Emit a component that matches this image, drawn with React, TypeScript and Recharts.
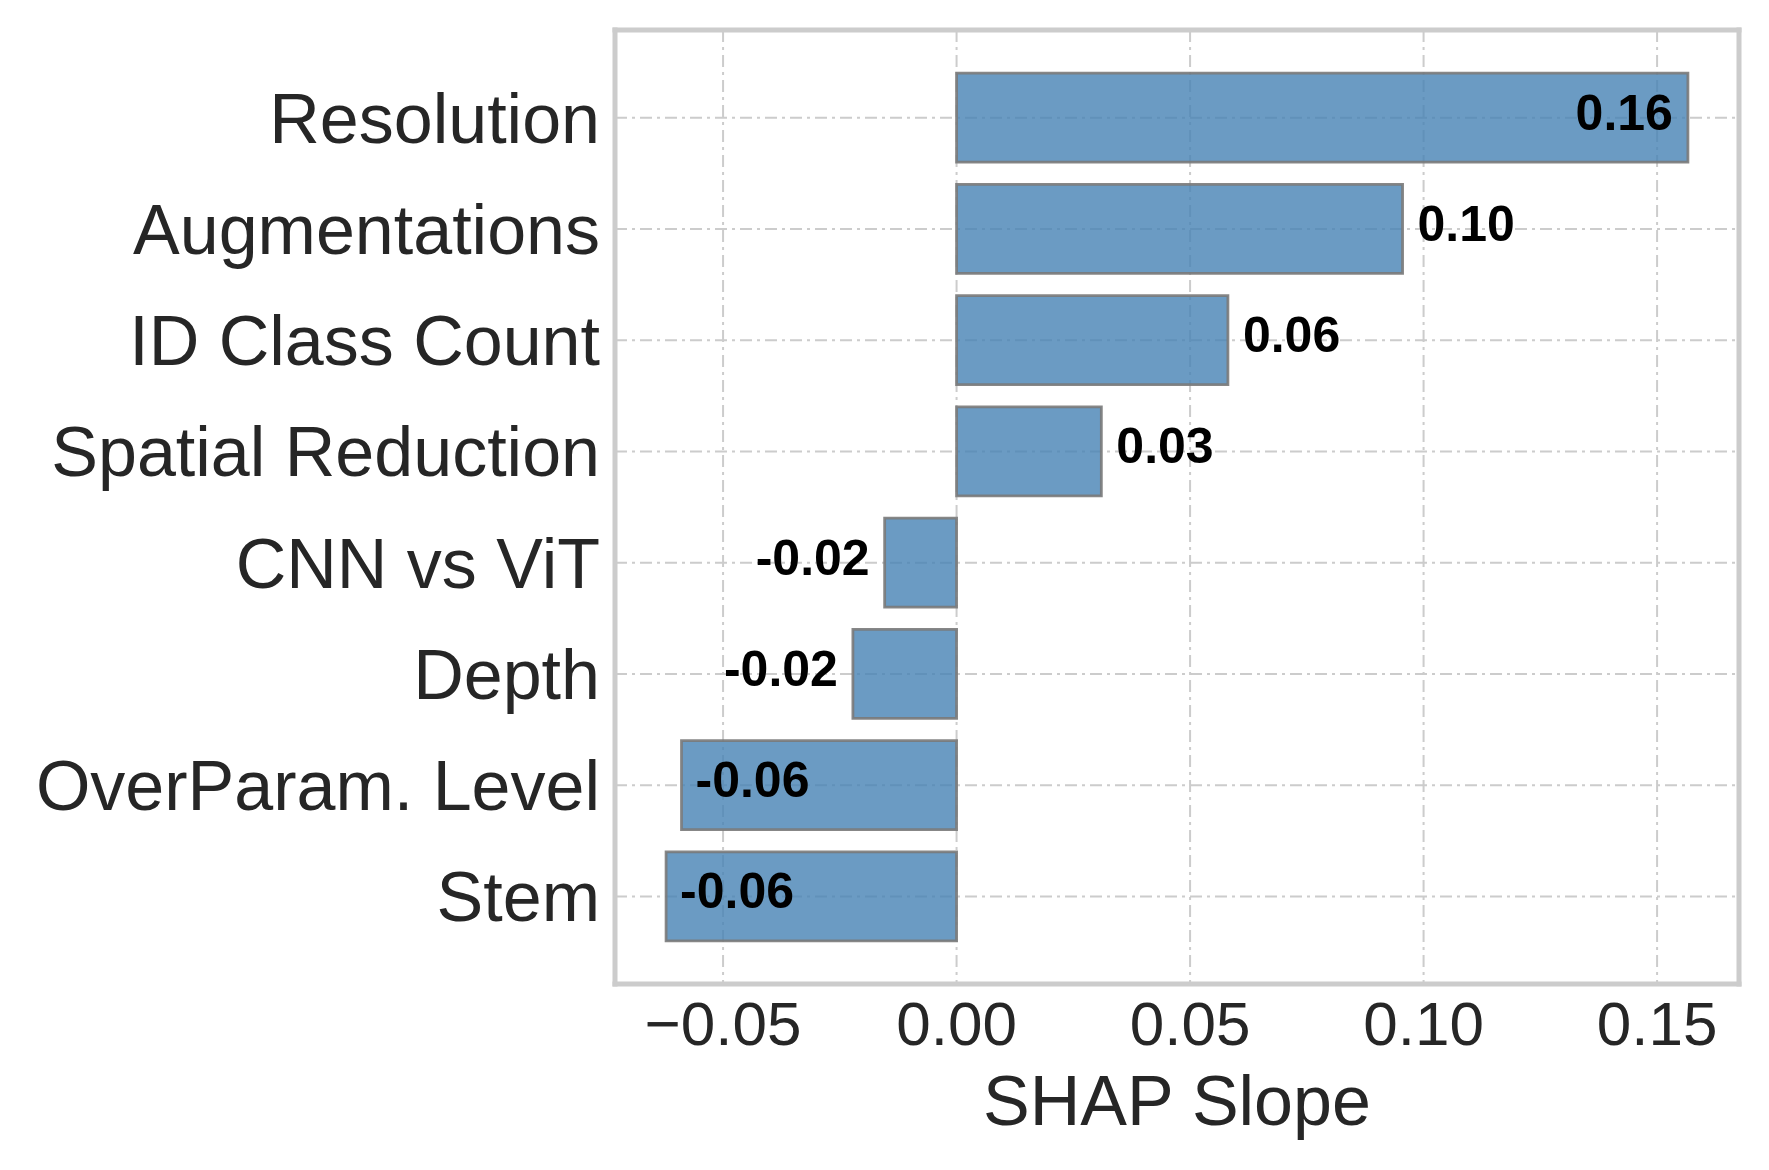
import React from "react";
import { BarChart, Bar, XAxis, YAxis, CartesianGrid, LabelList, Label } from "recharts";

const categories = [
  "Resolution",
  "Augmentations",
  "ID Class Count",
  "Spatial Reduction",
  "CNN vs ViT",
  "Depth",
  "OverParam. Level",
  "Stem",
];
const values = [0.1566, 0.0955, 0.0581, 0.031, -0.0154, -0.0222, -0.0589, -0.0622];
const xTicks = [-0.05, 0.0, 0.05, 0.1, 0.15];
const xLabel = "SHAP Slope";

const data = categories.map((name, i) => ({ name, value: values[i] }));

const W = 1769;
const H = 1170;
const PLOT_LEFT = 615;
const PLOT_RIGHT = 1739;
const PLOT_TOP = 30;
const PLOT_BOTTOM = 984;
const FONT = '"Liberation Sans", Arial, Helvetica, sans-serif';
const TEXT = "#262626";
const FRAME = "#cccccc";

const vMin = Math.min(0, ...values);
const vMax = Math.max(0, ...values);
const span = vMax - vMin;
const xDomain: [number, number] = [vMin - 0.05 * span, vMax + 0.05 * span];

const fmtTick = (v: number) => {
  const s = Math.abs(v).toFixed(2);
  return v < -1e-9 ? "\u2212" + s : s;
};

const LABEL_FS = 50;
const charW = (c: string) => (c === "." ? 0.278 : c === "-" ? 0.333 : 0.556);
const textW = (s: string) => s.split("").reduce((a, c) => a + charW(c), 0) * LABEL_FS;

const ValueLabel = (props: any) => {
  const vb = props.viewBox && props.viewBox.width !== undefined ? props.viewBox : props;
  const x = Number(vb.x);
  const w = Number(vb.width);
  const y = Number(vb.y);
  const h = Number(vb.height);
  const left = Math.min(x, x + w);
  const right = Math.max(x, x + w);
  const top = Math.min(y, y + h);
  const cy = top + Math.abs(h) / 2;
  const v = Number(props.value);
  const text = v.toFixed(2);
  const tw = textW(text);
  let tx: number;
  let anchor: "start" | "end";
  if (v >= 0) {
    if (right + 15 + tw <= PLOT_RIGHT) {
      tx = right + 15;
      anchor = "start";
    } else {
      tx = right - 15;
      anchor = "end";
    }
  } else {
    if (left - 15 - tw >= PLOT_LEFT) {
      tx = left - 15;
      anchor = "end";
    } else {
      tx = left + 14;
      anchor = "start";
    }
  }
  return (
    <text
      x={tx}
      y={cy + 12}
      textAnchor={anchor}
      fontFamily={FONT}
      fontWeight="bold"
      fontSize={LABEL_FS}
      fill="#000000"
    >
      {text}
    </text>
  );
};

const YTick = (props: any) => {
  const { x, y, payload } = props;
  return (
    <text x={x - 15} y={y + 25} textAnchor="end" fontFamily={FONT} fontSize={70} fill={TEXT}>
      {payload.value}
    </text>
  );
};

const XTick = (props: any) => {
  const { x, y, payload } = props;
  return (
    <text x={x} y={y + 61} textAnchor="middle" fontFamily={FONT} fontSize={62} fill={TEXT}>
      {fmtTick(Number(payload.value))}
    </text>
  );
};

const XLabel = (props: any) => {
  const vb = props.viewBox || {};
  const cx = Number(vb.x) + Number(vb.width) / 2;
  return (
    <text x={cx} y={Number(vb.y) + 141} textAnchor="middle" fontFamily={FONT} fontSize={70} fill={TEXT}>
      {xLabel}
    </text>
  );
};

export default function App() {
  return (
    <div style={{ position: "absolute", left: 0, top: 0, width: W, height: H, background: "#ffffff" }}>
      <BarChart
        width={W}
        height={H}
        data={data}
        layout="vertical"
        margin={{ top: PLOT_TOP, right: W - PLOT_RIGHT, left: 0, bottom: 0 }}
        barCategoryGap="10%"
      >
        <CartesianGrid stroke={FRAME} strokeWidth={2} strokeDasharray="12 5 3 5" />
        <XAxis
          type="number"
          domain={xDomain}
          allowDataOverflow
          ticks={xTicks}
          tick={<XTick />}
          tickLine={false}
          tickSize={0}
          tickMargin={0}
          axisLine={false}
          height={H - PLOT_BOTTOM}
          interval={0}
        >
          <Label content={<XLabel />} position="bottom" />
        </XAxis>
        <YAxis
          type="category"
          dataKey="name"
          width={PLOT_LEFT}
          tick={<YTick />}
          tickLine={false}
          tickSize={0}
          tickMargin={0}
          interval={0}
          padding={{ top: 32, bottom: 32 }}
          axisLine={false}
        />
        <Bar
          dataKey="value"
          fill="#4682b4"
          fillOpacity={0.8}
          stroke="#7a7a7a"
          strokeOpacity={0.9}
          strokeWidth={2.8}
          isAnimationActive={false}
        >
          <LabelList dataKey="value" content={<ValueLabel />} />
        </Bar>
        <CartesianGrid
          stroke={FRAME}
          strokeWidth={5}
          strokeLinecap="square"
          horizontalPoints={[PLOT_TOP, PLOT_BOTTOM]}
          verticalPoints={[PLOT_LEFT, PLOT_RIGHT]}
        />
      </BarChart>
    </div>
  );
}
